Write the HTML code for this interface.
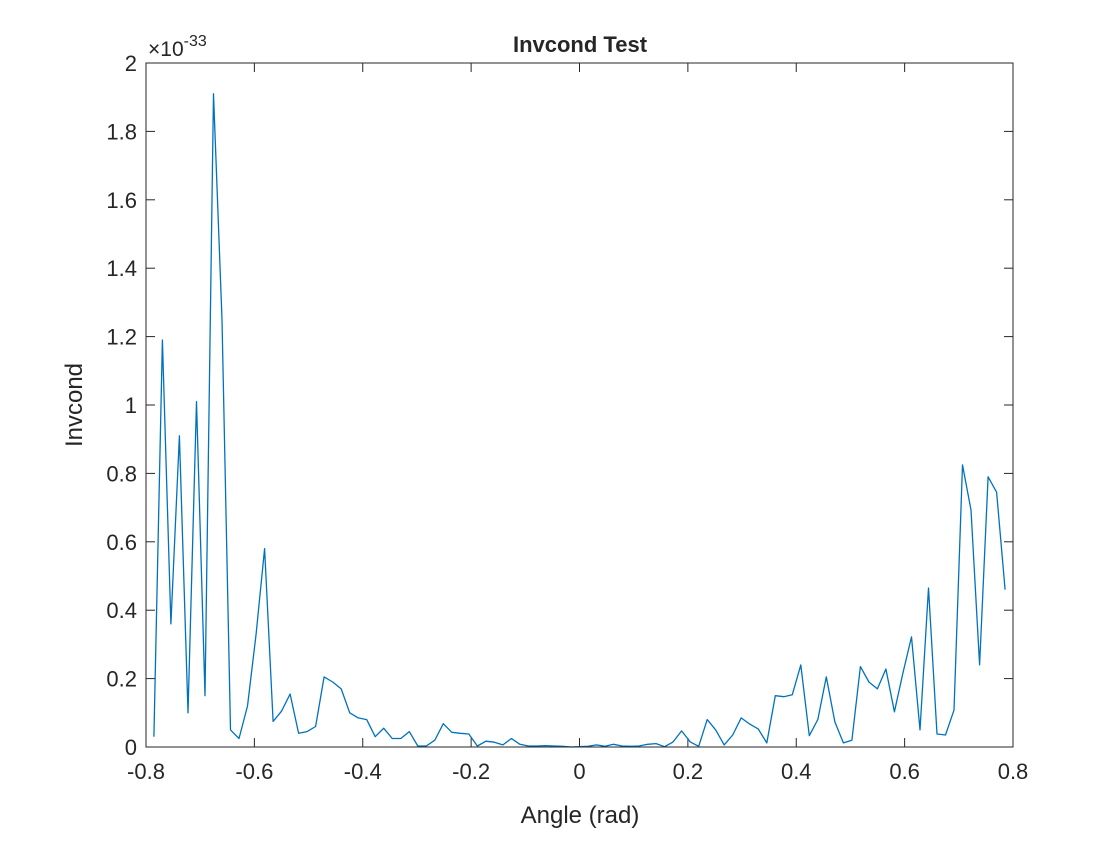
<!DOCTYPE html>
<html><head><meta charset="utf-8"><style>
body{margin:0;background:#fff;}
svg text{font-family:"Liberation Sans",Arial,sans-serif;fill:#262626;}
</style></head><body>
<svg id="chart" width="1120" height="840" xmlns="http://www.w3.org/2000/svg">
<rect x="0" y="0" width="1120" height="840" fill="#fff"/>
<g id="ticks"></g>
<polyline id="line" fill="none" stroke="#0072BD" stroke-width="1.3" stroke-linejoin="round"/>
<rect x="146" y="63" width="867" height="684" fill="none" stroke="#262626" stroke-width="1"/>
<text x="580" y="52" font-size="22" font-weight="bold" text-anchor="middle">Invcond Test</text>
<text x="148" y="56" font-size="21">×10<tspan dy="-10" font-size="16">-33</tspan></text>
<text x="580" y="823" font-size="24" text-anchor="middle">Angle (rad)</text>
<text x="0" y="0" font-size="24" text-anchor="middle" transform="translate(82,405) rotate(-90)">Invcond</text>
</svg>
<script>
const xTicks=[-0.8,-0.6,-0.4,-0.2,0,0.2,0.4,0.6,0.8];
const xTickLabels=["-0.8","-0.6","-0.4","-0.2","0","0.2","0.4","0.6","0.8"];
const yTicks=[0,0.2,0.4,0.6,0.8,1,1.2,1.4,1.6,1.8,2];
const yTickLabels=["0","0.2","0.4","0.6","0.8","1","1.2","1.4","1.6","1.8","2"];
const xStart=-0.785398, xStep=0.0157080;
const values=[0.03,1.19,0.36,0.91,0.10,1.01,0.15,1.91,1.25,0.05,0.025,0.12,0.33,0.58,0.075,0.105,0.155,0.04,0.045,0.06,
0.205,0.19,0.17,0.10,0.085,0.08,0.03,0.055,0.025,0.025,0.045,0.003,0.003,0.02,0.068,0.043,0.04,0.038,0.003,0.017,
0.014,0.006,0.025,0.008,0.003,0.003,0.004,0.003,0.002,0,0.001,0.002,0.006,0.002,0.008,0.003,0.002,0.003,0.008,
0.01,0.001,0.015,0.047,0.015,0.002,0.08,0.05,0.006,0.035,0.085,0.067,0.053,0.012,0.15,0.147,0.153,0.24,0.033,0.08,
0.205,0.073,0.012,0.02,0.235,0.19,0.17,0.228,0.103,0.216,0.322,0.05,0.465,0.038,0.035,0.108,0.825,0.693,0.24,0.79,0.745,0.46];
const X0=146,X1=1013,Y0=747,Y1=63;
const sx=v=>X0+(v+0.8)/1.6*(X1-X0);
const sy=v=>Y0-v/2*(Y0-Y1);
const NS="http://www.w3.org/2000/svg";
const g=document.getElementById('ticks');
function mk(tag,attrs){const e=document.createElementNS(NS,tag);for(const k in attrs)e.setAttribute(k,attrs[k]);return e;}
xTicks.forEach((t,i)=>{const x=sx(t);
 const a=mk('line',{x1:x,x2:x,y1:Y0,y2:Y0-9,stroke:'#262626'});
 
 g.appendChild(a);
 const b=mk('line',{x1:x,x2:x,y1:Y1,y2:Y1+9,stroke:'#262626'});
 
 g.appendChild(b);
 const l=mk('text',{x:x,y:Y0+32,'font-size':22,'text-anchor':'middle'});l.textContent=xTickLabels[i];
 
 g.appendChild(l);});
yTicks.forEach((t,i)=>{const y=sy(t);
 const a=mk('line',{x1:X0,x2:X0+9,y1:y,y2:y,stroke:'#262626'});
 
 g.appendChild(a);
 const b=mk('line',{x1:X1,x2:X1-9,y1:y,y2:y,stroke:'#262626'});
 
 g.appendChild(b);
 const l=mk('text',{x:X0-9,y:y+8,'font-size':22,'text-anchor':'end'});l.textContent=yTickLabels[i];
 
 g.appendChild(l);});
document.getElementById('line').setAttribute('points',values.map((v,i)=>sx(xStart+i*xStep).toFixed(1)+','+sy(v).toFixed(1)).join(' '));
</script>
</body></html>
